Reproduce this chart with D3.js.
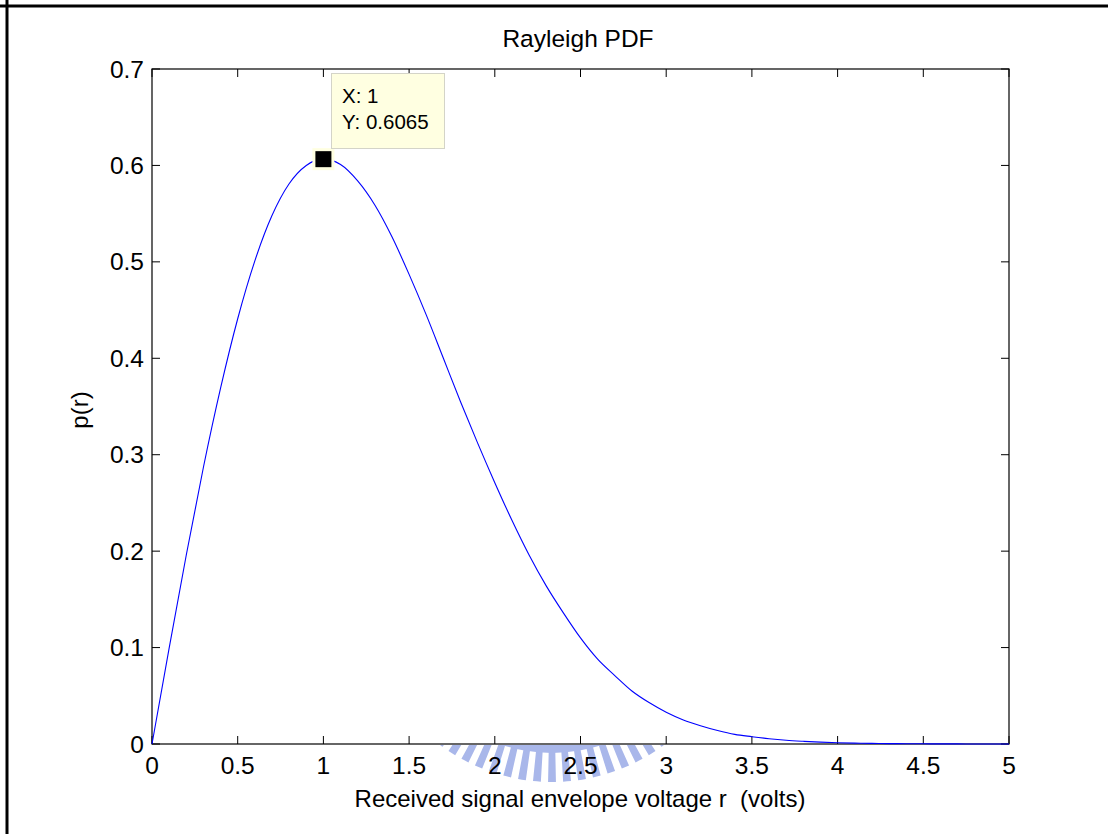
<!DOCTYPE html>
<html>
<head>
<meta charset="utf-8">
<script src="https://cdn.jsdelivr.net/npm/d3@7.9.0/dist/d3.min.js"></script>
<style>
  body { margin: 0; background: #fff; }
  svg { display: block; font-family: "Liberation Sans", Arial, sans-serif; }
</style>
</head>
<body>
<svg width="1108" height="834"></svg>
<script>
// r values (volts) and p(r)
const rValues = [0, 0.1, 0.2, 0.3, 0.4, 0.5, 0.6, 0.7, 0.8, 0.9,
  1.0, 1.1, 1.2, 1.3, 1.4, 1.5, 1.6, 1.7, 1.8, 1.9,
  2.0, 2.1, 2.2, 2.3, 2.4, 2.5, 2.6, 2.7, 2.8, 2.9,
  3.0, 3.1, 3.2, 3.3, 3.4, 3.5, 3.6, 3.7, 3.8, 3.9,
  4.0, 4.1, 4.2, 4.3, 4.4, 4.5, 4.6, 4.7, 4.8, 4.9, 5.0];
const pValues = [0, 0.0995, 0.196, 0.287, 0.369, 0.441, 0.501, 0.548, 0.581, 0.600,
  0.6065, 0.601, 0.584, 0.559, 0.526, 0.487, 0.445, 0.400, 0.355, 0.312,
  0.271, 0.232, 0.196, 0.164, 0.136, 0.110, 0.088, 0.071, 0.055, 0.043,
  0.033, 0.025, 0.019, 0.014, 0.010, 0.0076, 0.0055, 0.0039, 0.0028, 0.0019,
  0.0013, 0.0009, 0.0006, 0.0004, 0.0003, 0.0002, 0.0001, 0.0001, 0, 0, 0];
const xTicks = [0, 0.5, 1, 1.5, 2, 2.5, 3, 3.5, 4, 4.5, 5];
const yTicks = [0, 0.1, 0.2, 0.3, 0.4, 0.5, 0.6, 0.7];
const tip = { x: 1, y: 0.6065 };

const svg = d3.select("svg");
const plotLeft = 152, plotRight = 1009, plotTop = 69, plotBottom = 744;

let x = d3.scaleLinear().domain([0, 5]).range([plotLeft, plotRight]);
let y = d3.scaleLinear().domain([0, 0.7]).range([plotBottom, plotTop]);

// outer figure frame (only top & left edges show)
svg.append("line").attr("x1", 0).attr("x2", 1108).attr("y1", 6).attr("y2", 6)
  .attr("stroke", "#000").attr("stroke-width", 3);
svg.append("line").attr("x1", 7).attr("x2", 7).attr("y1", 0).attr("y2", 834)
  .attr("stroke", "#000").attr("stroke-width", 3);

// faint watermark emblem, hidden by the axes except below the x axis
svg.append("clipPath").attr("id", "below-axis")
  .append("rect").attr("x", 0).attr("y", plotBottom + 1).attr("width", 1108).attr("height", 100);
const deg = Math.PI / 180;
const wm = svg.append("g").attr("clip-path", "url(#below-axis)")
  .append("g").attr("transform", "translate(552,594)").attr("fill", "#a9b7ea");
d3.range(-36.8, 37, 4.6).forEach(a => {
  wm.append("path")
    .attr("d", d3.arc().innerRadius(157).outerRadius(188)
      .startAngle(Math.PI - (a + 1.2) * deg)
      .endAngle(Math.PI - (a - 1.2) * deg)());
});
wm.append("path")
  .attr("d", d3.arc().innerRadius(148).outerRadius(159)
    .startAngle(Math.PI - 40 * deg)
    .endAngle(Math.PI + 40 * deg)());

// axes box
const axisG = svg.append("g").attr("font-size", 24.5).attr("fill", "#000");
axisG.append("rect").attr("x", plotLeft).attr("y", plotTop)
  .attr("width", plotRight - plotLeft).attr("height", plotBottom - plotTop)
  .attr("fill", "none").attr("stroke", "#000").attr("stroke-width", 1.2);

xTicks.forEach(t => {
  axisG.append("line").attr("x1", x(t)).attr("x2", x(t)).attr("y1", plotBottom).attr("y2", plotBottom - 8)
    .attr("stroke", "#000");
  axisG.append("line").attr("x1", x(t)).attr("x2", x(t)).attr("y1", plotTop).attr("y2", plotTop + 8)
    .attr("stroke", "#000");
  axisG.append("text").attr("x", x(t)).attr("y", 774).attr("text-anchor", "middle").text(t);
});
yTicks.forEach(t => {
  axisG.append("line").attr("x1", plotLeft).attr("x2", plotLeft + 8).attr("y1", y(t)).attr("y2", y(t))
    .attr("stroke", "#000");
  axisG.append("line").attr("x1", plotRight).attr("x2", plotRight - 8).attr("y1", y(t)).attr("y2", y(t))
    .attr("stroke", "#000");
  axisG.append("text").attr("x", 144).attr("y", y(t) + 8.5).attr("text-anchor", "end").text(t);
});

// curve
const line = d3.line().x((d, i) => x(rValues[i])).y(d => y(d)).curve(d3.curveMonotoneX);
svg.append("path").datum(pValues).attr("d", line)
  .attr("fill", "none").attr("stroke", "#0000ff").attr("stroke-width", 1.1);

// titles
svg.append("text").attr("x", 578).attr("y", 47).attr("text-anchor", "middle")
  .attr("font-size", 24.5).text("Rayleigh PDF");
svg.append("text").attr("x", 580).attr("y", 807).attr("text-anchor", "middle")
  .attr("font-size", 24).text("Received signal envelope voltage r\u00a0 (volts)");
svg.append("text").attr("transform", "translate(88,410) rotate(-90)").attr("text-anchor", "middle")
  .attr("font-size", 24).text("p(r)");

// data tip
const tx = x(tip.x), ty = y(tip.y);
svg.append("rect").attr("x", tx - 11).attr("y", ty - 11).attr("width", 22).attr("height", 22)
  .attr("fill", "#ffffe1");
svg.append("rect").attr("x", tx - 8).attr("y", ty - 8).attr("width", 16).attr("height", 16)
  .attr("fill", "#000");
const box = svg.append("g");
box.append("rect").attr("x", 331.5).attr("y", 73.5).attr("width", 113).attr("height", 75)
  .attr("fill", "#ffffe1").attr("stroke", "#d4d4c8");
box.append("text").attr("x", 342).attr("y", 103).attr("font-size", 20.5).text("X: " + tip.x);
box.append("text").attr("x", 342).attr("y", 129).attr("font-size", 20.5).text("Y: " + tip.y);
</script>
</body>
</html>
